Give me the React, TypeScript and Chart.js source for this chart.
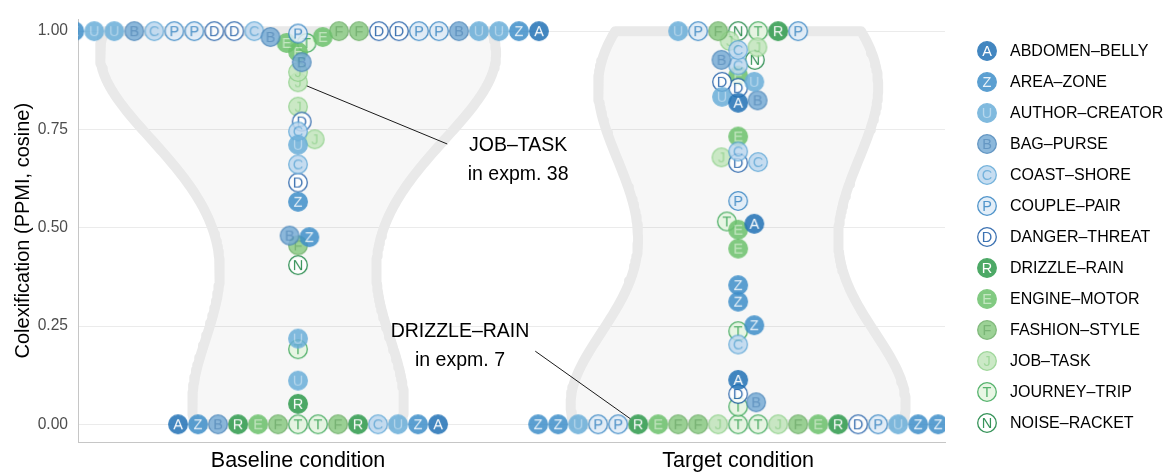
import React, { useEffect, useRef } from 'react';
import { Chart, registerables } from 'chart.js';

Chart.register(...registerables);

const FONT = "'Liberation Sans', Arial, Helvetica, sans-serif";

// ---- categories / labels ----
const CONDITIONS = ['Baseline condition', 'Target condition'];
const Y_TICKS = [0, 0.25, 0.5, 0.75, 1];
const Y_TITLE = 'Colexification (PPMI, cosine)';

const PAIR_CODES = ['A', 'Z', 'U', 'B', 'C', 'P', 'D', 'R', 'E', 'F', 'J', 'T', 'N'];
const PAIR_NAMES = [
  'ABDOMEN–BELLY', 'AREA–ZONE', 'AUTHOR–CREATOR', 'BAG–PURSE', 'COAST–SHORE', 'COUPLE–PAIR',
  'DANGER–THREAT', 'DRIZZLE–RAIN', 'ENGINE–MOTOR', 'FASHION–STYLE', 'JOB–TASK', 'JOURNEY–TRIP', 'NOISE–RACKET',
];
// fill, outline, letter
const PAIR_STYLES = [
  ['#2171b5', '#2171b5', '#ffffff'],
  ['#3f8fc9', '#3f8fc9', '#e3eff8'],
  ['#6aaed9', '#6aaed9', '#a9d0ea'],
  ['#78acd5', '#4a85b9', '#4a85b9'],
  ['#bcd8ef', '#5ea6d6', '#5ea6d6'],
  ['#deebf7', '#3383c2', '#3383c2'],
  ['#ffffff', '#1b5aa5', '#1b5aa5'],
  ['#2e9a4c', '#2e9a4c', '#ffffff'],
  ['#6cc16c', '#6cc16c', '#b9e3b5'],
  ['#8bca84', '#6cae66', '#63a85e'],
  ['#c2e6bc', '#8fd08a', '#8fd08a'],
  ['#e4f5e0', '#3aa655', '#3aa655'],
  ['#ffffff', '#13803c', '#13803c'],
];

// ---- data: one entry per experiment, per condition ----
const BASELINE_PAIRS = [
  'T', 'T', 'F', 'F', 'E', 'R', 'R', 'C', 'B', 'U', 'Z', 'Z', 'A', 'A',
  'R', 'U', 'T', 'U', 'N', 'F', 'Z', 'B', 'Z', 'D', 'C', 'U', 'J', 'C', 'D', 'J', 'J', 'J', 'B', 'E', 'T', 'E', 'E', 'B', 'P',
  'F', 'C', 'F', 'D', 'D', 'D', 'D', 'P', 'P', 'P', 'P', 'C', 'B', 'B', 'U', 'U', 'U', 'U', 'Z', 'Z', 'A',
];
const BASELINE_VALUES = [
  0, 0, 0, 0, 0, 0, 0, 0, 0, 0, 0, 0, 0, 0,
  0.052, 0.111, 0.191, 0.218, 0.405, 0.455, 0.476, 0.480, 0.566, 0.615, 0.661, 0.711, 0.725, 0.745, 0.770,
  0.808, 0.870, 0.896, 0.921, 0.947, 0.970, 0.970, 0.985, 0.985, 0.994,
  1, 1, 1, 1, 1, 1, 1, 1, 1, 1, 1, 1, 1, 1, 1, 1, 1, 1, 1, 1, 1,
];
const TARGET_PAIRS = [
  'T', 'T', 'J', 'J', 'F', 'F', 'F', 'E', 'E', 'R', 'R', 'D', 'P', 'P', 'P', 'U', 'U', 'Z', 'Z', 'Z', 'Z',
  'T', 'B', 'D', 'A', 'C', 'T', 'Z', 'Z', 'Z', 'E', 'E', 'A', 'T', 'P', 'D', 'C', 'J', 'C', 'E', 'A', 'B', 'U',
  'D', 'U', 'D', 'E', 'C', 'N', 'B', 'C', 'J', 'J',
  'N', 'T', 'F', 'R', 'P', 'P', 'U',
];
const TARGET_VALUES = [
  0, 0, 0, 0, 0, 0, 0, 0, 0, 0, 0, 0, 0, 0, 0, 0, 0, 0, 0, 0, 0,
  0.045, 0.056, 0.077, 0.113, 0.203, 0.237, 0.252, 0.312, 0.354, 0.447, 0.495, 0.510, 0.516, 0.568, 0.665,
  0.667, 0.679, 0.694, 0.732, 0.818, 0.824, 0.833, 0.856, 0.871, 0.871, 0.887, 0.913, 0.927, 0.927, 0.952,
  0.959, 0.975,
  1, 1, 1, 1, 1, 1, 1,
];

// annotations: which experiment they point at, and where the text sits (data units)
const NOTE_TITLES = ['JOB–TASK', 'DRIZZLE–RAIN'];
const NOTE_SUBS = ['in expm. 38', 'in expm. 7'];
const NOTE_CONDITION = [0, 1];
const NOTE_ENTRY = [30, 10];
const NOTE_TEXT_X = [1.5, 1.368];
const NOTE_TEXT_Y = [0.708, 0.237];
const NOTE_TIP_X = [1.339, 1.539];
const NOTE_TIP_Y = [0.713, 0.186];

const VIOLIN_ADJUST = 1.35;
const VIOLIN_HALF = 0.45;

function makeGlyph(code: string, style: string[]): HTMLCanvasElement {
  const size = 22;
  const raw = document.createElement('canvas');
  raw.width = size; raw.height = size;
  const r = raw.getContext('2d')!;
  r.beginPath();
  r.arc(size / 2, size / 2, 9.3, 0, Math.PI * 2);
  r.fillStyle = style[0];
  r.fill();
  r.lineWidth = 1.3;
  r.strokeStyle = style[1];
  r.stroke();
  r.fillStyle = style[2];
  r.font = `14.5px ${FONT}`;
  r.textAlign = 'center';
  r.textBaseline = 'middle';
  r.fillText(code, size / 2, size / 2 + 1);
  const out = document.createElement('canvas');
  out.width = size; out.height = size;
  const o = out.getContext('2d')!;
  o.globalAlpha = 0.85;
  o.drawImage(raw, 0, 0);
  return out;
}

function swarm(values: number[], py: number[], D = 20, K = 2): number[] {
  const idx = values.map((_, i) => i).sort((a, b) => values[a] - values[b] || a - b);
  const placed: { x: number; y: number }[] = [];
  const out = new Array(values.length).fill(0);
  const D2 = D * D;
  for (const i of idx) {
    const y = py[i];
    const near = placed.filter((p) => Math.abs((y - p.y) * K) < D);
    const cands = [0];
    near.forEach((p) => {
      const dy = (y - p.y) * K;
      const h = Math.sqrt(D2 - dy * dy);
      cands.push(p.x + h, p.x - h);
    });
    let best = Infinity;
    for (const c of cands) {
      const ok = near.every((p) => {
        const dx = c - p.x;
        const dy = (y - p.y) * K;
        return dx * dx + dy * dy >= D2 - 1e-6;
      });
      if (!ok) continue;
      const a = Math.abs(c), b = Math.abs(best);
      if (a < b - 1e-6 || (Math.abs(a - b) <= 1e-6 && c > best)) best = c;
    }
    out[i] = best;
    placed.push({ x: best, y });
  }
  return out;
}

function bwNrd0(v: number[]): number {
  const n = v.length;
  const s = [...v].sort((a, b) => a - b);
  const mean = s.reduce((a, b) => a + b, 0) / n;
  const sd = Math.sqrt(s.reduce((a, b) => a + (b - mean) ** 2, 0) / (n - 1));
  const q = (p: number) => {
    const h = (n - 1) * p;
    const lo = Math.floor(h);
    return s[lo] + (h - lo) * (s[Math.min(lo + 1, n - 1)] - s[lo]);
  };
  let lo = Math.min(sd, (q(0.75) - q(0.25)) / 1.34);
  if (!(lo > 0)) lo = sd || 1;
  return 0.9 * lo * Math.pow(n, -0.2);
}

function density(values: number[], bw: number, grid: number[]): number[] {
  const c = values.length * bw * Math.sqrt(2 * Math.PI);
  return grid.map((y) => values.reduce((s, v) => s + Math.exp(-0.5 * ((y - v) / bw) ** 2), 0) / c);
}

export default function App() {
  const ref = useRef<HTMLCanvasElement>(null);

  useEffect(() => {
    const canvas = ref.current!;
    const glyphs = PAIR_CODES.map((c, i) => makeGlyph(c, PAIR_STYLES[i]));
    const conds = [
      { codes: BASELINE_PAIRS, values: BASELINE_VALUES },
      { codes: TARGET_PAIRS, values: TARGET_VALUES },
    ];
    const pointData: { x: number; y: number }[][] = PAIR_CODES.map(() => []);
    const refs = conds.map((c, ci) =>
      c.codes.map((code, k) => {
        const s = PAIR_CODES.indexOf(code);
        pointData[s].push({ x: ci + 1, y: c.values[k] });
        return { s, i: pointData[s].length - 1 };
      }),
    );

    // violins from kernel density estimates
    const dens = conds.map((c) => {
      const bw = bwNrd0(c.values) * VIOLIN_ADJUST;
      const mn = Math.min(...c.values), mx = Math.max(...c.values);
      const grid = Array.from({ length: 160 }, (_, i) => mn + ((mx - mn) * i) / 159);
      return { grid, d: density(c.values, bw, grid) };
    });
    const maxD = Math.max(...dens.map((o) => Math.max(...o.d)));
    const violinData = dens.map((o, ci) => {
      const cx = ci + 1;
      const right = o.grid.map((y, i) => ({ x: cx + (VIOLIN_HALF * o.d[i]) / maxD, y }));
      const left = o.grid.map((y, i) => ({ x: cx - (VIOLIN_HALF * o.d[i]) / maxD, y })).reverse();
      const pts = [...right, ...left];
      pts.push({ ...pts[0] });
      return pts;
    });

    const pointDatasets: any[] = PAIR_CODES.map((code, s) => ({
      type: 'scatter',
      label: PAIR_NAMES[s],
      data: pointData[s],
      pointStyle: glyphs[s],
      pointRadius: 10,
      pointHoverRadius: 10,
      order: s,
    }));
    const violinDatasets: any[] = violinData.map((d, ci) => ({
      type: 'line',
      label: CONDITIONS[ci],
      data: d,
      borderColor: '#e9e9e9',
      backgroundColor: 'rgba(0,0,0,0.03)',
      borderWidth: 10,
      borderJoinStyle: 'round',
      pointRadius: 0,
      pointHoverRadius: 0,
      fill: 'shape',
      tension: 0,
      order: 100,
    }));

    const notesPlugin = {
      id: 'notes',
      afterDatasetsDraw(chart: any) {
        const { ctx } = chart;
        const xs = chart.scales.x, ys = chart.scales.y;
        ctx.save();
        NOTE_TITLES.forEach((title, n) => {
          const r = refs[NOTE_CONDITION[n]][NOTE_ENTRY[n]];
          const el = chart.getDatasetMeta(r.s).data[r.i];
          const qx = xs.getPixelForValue(NOTE_TIP_X[n]);
          const qy = ys.getPixelForValue(NOTE_TIP_Y[n]);
          const dx = qx - el.x, dy = qy - el.y;
          const len = Math.hypot(dx, dy) || 1;
          ctx.beginPath();
          ctx.moveTo(el.x + (dx / len) * 9.5, el.y + (dy / len) * 9.5);
          ctx.lineTo(qx, qy);
          ctx.strokeStyle = '#1a1a1a';
          ctx.lineWidth = 1;
          ctx.stroke();
          const tx = xs.getPixelForValue(NOTE_TEXT_X[n]);
          const ty = ys.getPixelForValue(NOTE_TEXT_Y[n]);
          ctx.fillStyle = '#000000';
          ctx.font = `19.5px ${FONT}`;
          ctx.textAlign = 'center';
          ctx.textBaseline = 'middle';
          ctx.fillText(title, tx, ty);
          ctx.fillText(NOTE_SUBS[n], tx, ty + 29);
        });
        ctx.restore();
      },
    };

    const legendPlugin = {
      id: 'pairLegend',
      afterDraw(chart: any) {
        const { ctx, chartArea, height } = chart;
        ctx.save();
        ctx.font = `16px ${FONT}`;
        ctx.textAlign = 'left';
        ctx.textBaseline = 'middle';
        ctx.fillStyle = '#000000';
        const cx = chartArea.right + 42;
        PAIR_NAMES.forEach((name, i) => {
          const y = height / 2 + (i - (PAIR_NAMES.length - 1) / 2) * 31;
          const g = glyphs[i];
          ctx.drawImage(g, Math.round(cx - g.width / 2), Math.round(y - g.height / 2));
          ctx.fillText(name, cx + 23, y + 0.5);
        });
        ctx.restore();
      },
    };

    const chart = new Chart(canvas, {
      type: 'scatter',
      data: { datasets: [...pointDatasets, ...violinDatasets] },
      options: {
        animation: false,
        responsive: false,
        devicePixelRatio: 1,
        layout: { padding: { top: 16, right: 223, bottom: 0, left: 0 } },
        plugins: { legend: { display: false }, tooltip: { enabled: false } },
        events: [],
        scales: {
          x: {
            type: 'linear',
            min: 0.5,
            max: 2.47,
            afterFit: (s: any) => { s.height = 32; },
            afterBuildTicks: (s: any) => { s.ticks = CONDITIONS.map((_, i) => ({ value: i + 1 })); },
            grid: { display: false, drawTicks: false },
            border: { display: true, color: '#c6c6c6', width: 1 },
            ticks: {
              padding: 6,
              color: '#000000',
              font: { family: FONT, size: 21.5 },
              callback: (v: any) => CONDITIONS[Math.round(Number(v)) - 1] ?? '',
            },
          },
          y: {
            type: 'linear',
            min: -0.045,
            max: 1.03,
            afterFit: (s: any) => { s.width = 78; },
            afterBuildTicks: (s: any) => { s.ticks = Y_TICKS.map((v) => ({ value: v })); },
            grid: { color: '#ebebeb', lineWidth: 1, drawTicks: false },
            border: { display: true, color: '#c6c6c6', width: 1 },
            ticks: {
              padding: 10,
              color: '#4d4d4d',
              font: { family: FONT, size: 15.6 },
              callback: (v: any) => Number(v).toFixed(2),
            },
            title: {
              display: true,
              text: Y_TITLE,
              color: '#000000',
              font: { family: FONT, size: 20 },
              padding: { top: 11, bottom: 0 },
            },
          },
        },
      } as any,
      plugins: [notesPlugin, legendPlugin],
    });

    // beeswarm placement, done in pixel space on the chart's own scales
    const xs: any = chart.scales.x;
    const ys: any = chart.scales.y;
    const ppu = xs.getPixelForValue(2) - xs.getPixelForValue(1);
    conds.forEach((c, ci) => {
      const py = c.values.map((v) => ys.getPixelForValue(v));
      const dx = swarm(c.values, py);
      refs[ci].forEach((r, k) => {
        pointData[r.s][r.i].x = ci + 1 + dx[k] / ppu;
      });
    });
    chart.update('none');

    return () => chart.destroy();
  }, []);

  return (
    <div style={{ position: 'fixed', left: 0, top: 0, width: 1168, height: 474, background: '#ffffff' }}>
      <canvas ref={ref} width={1168} height={474} style={{ display: 'block' }} />
    </div>
  );
}
